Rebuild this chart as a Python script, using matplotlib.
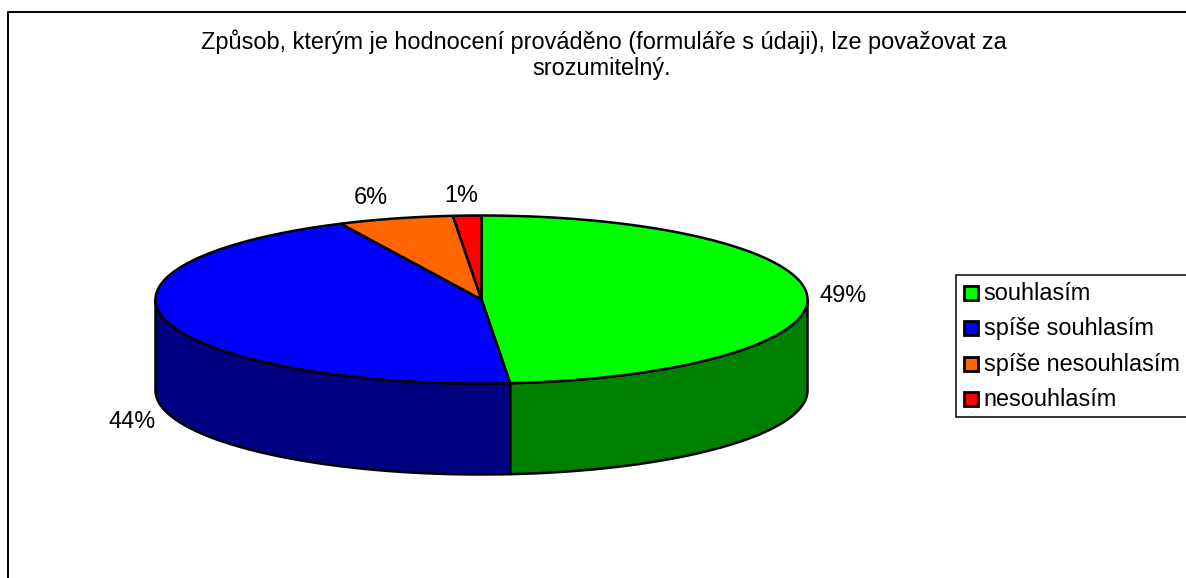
import numpy as np
import matplotlib
matplotlib.use("Agg")
import matplotlib.pyplot as plt
from matplotlib.patches import Polygon, Rectangle
from matplotlib.lines import Line2D

plt.rcParams['font.family'] = ['Liberation Sans', 'DejaVu Sans']

title = "Způsob, kterým je hodnocení prováděno (formuláře s údaji), lze považovat za\nsrozumitelný."
categories = ["souhlasím", "spíše souhlasím", "spíše nesouhlasím", "nesouhlasím"]
values = [48.6, 44.3, 5.7, 1.4]
labels = ["49%", "44%", "6%", "1%"]
top_colors = ["#00FF00", "#0000FF", "#FF6600", "#FF0000"]
side_colors = ["#008000", "#000080", "#803300", "#800000"]
label_xy = [(843, 295.5), (132, 421), (371, 198), (461, 195)]

FS = 16.9
W, H = 1186, 578
fig = plt.figure(figsize=(W / 100, H / 100), dpi=100)
ax = fig.add_axes([0, 0, 1, 1])
ax.set_xlim(0, W)
ax.set_ylim(H, 0)
ax.axis("off")

# chart frame, cropped by the right and bottom edges of the picture
ax.add_line(Line2D([8, 8, W + 5], [H + 5, 11.5, 11.5], color="black", lw=1.4))

ax.text(604, 41.5, title.split("\n")[0], ha="center", va="center", fontsize=FS)
ax.text(602, 68.5, title.split("\n")[1], ha="center", va="center", fontsize=FS)

cx, cy, rx, ry, depth = 481.5, 299.5, 326, 84, 91
lw = 1.8


def pt(t):
    # t: clockwise angle in radians from the top of the pie
    return cx + rx * np.sin(t), cy - ry * np.cos(t)


edges = np.cumsum([0] + values) / 100 * 2 * np.pi

# side walls (only the front half, pi/2 .. 3pi/2)
for i in range(len(values)):
    a, b = max(edges[i], np.pi / 2), min(edges[i + 1], 3 * np.pi / 2)
    if a >= b:
        continue
    t = np.linspace(a, b, 200)
    x, y = pt(t)
    xs = np.r_[x, x[::-1]]
    ys = np.r_[y, y[::-1] + depth]
    ax.add_patch(Polygon(np.c_[xs, ys], closed=True, fc=side_colors[i], ec="black", lw=lw, joinstyle="round"))

# top faces
for i in range(len(values)):
    t = np.linspace(edges[i], edges[i + 1], 300)
    x, y = pt(t)
    xs = np.r_[cx, x]
    ys = np.r_[cy, y]
    ax.add_patch(Polygon(np.c_[xs, ys], closed=True, fc=top_colors[i], ec="black", lw=lw, joinstyle="round"))

for (x, y), s in zip(label_xy, labels):
    ax.text(x, y, s, ha="center", va="center", fontsize=FS)

# legend
ax.add_patch(Rectangle((955.5, 274.5), W - 955.5 + 5, 142, fc="white", ec="black", lw=1.1))
for i, c in enumerate(categories):
    y = 292.5 + i * 35.5
    ax.add_patch(Rectangle((964.3, y - 7), 14, 14, fc=top_colors[i], ec="black", lw=2))
    ax.text(983.5, y + 1, c, ha="left", va="center", fontsize=FS)

fig.savefig("out.png", dpi=100)
